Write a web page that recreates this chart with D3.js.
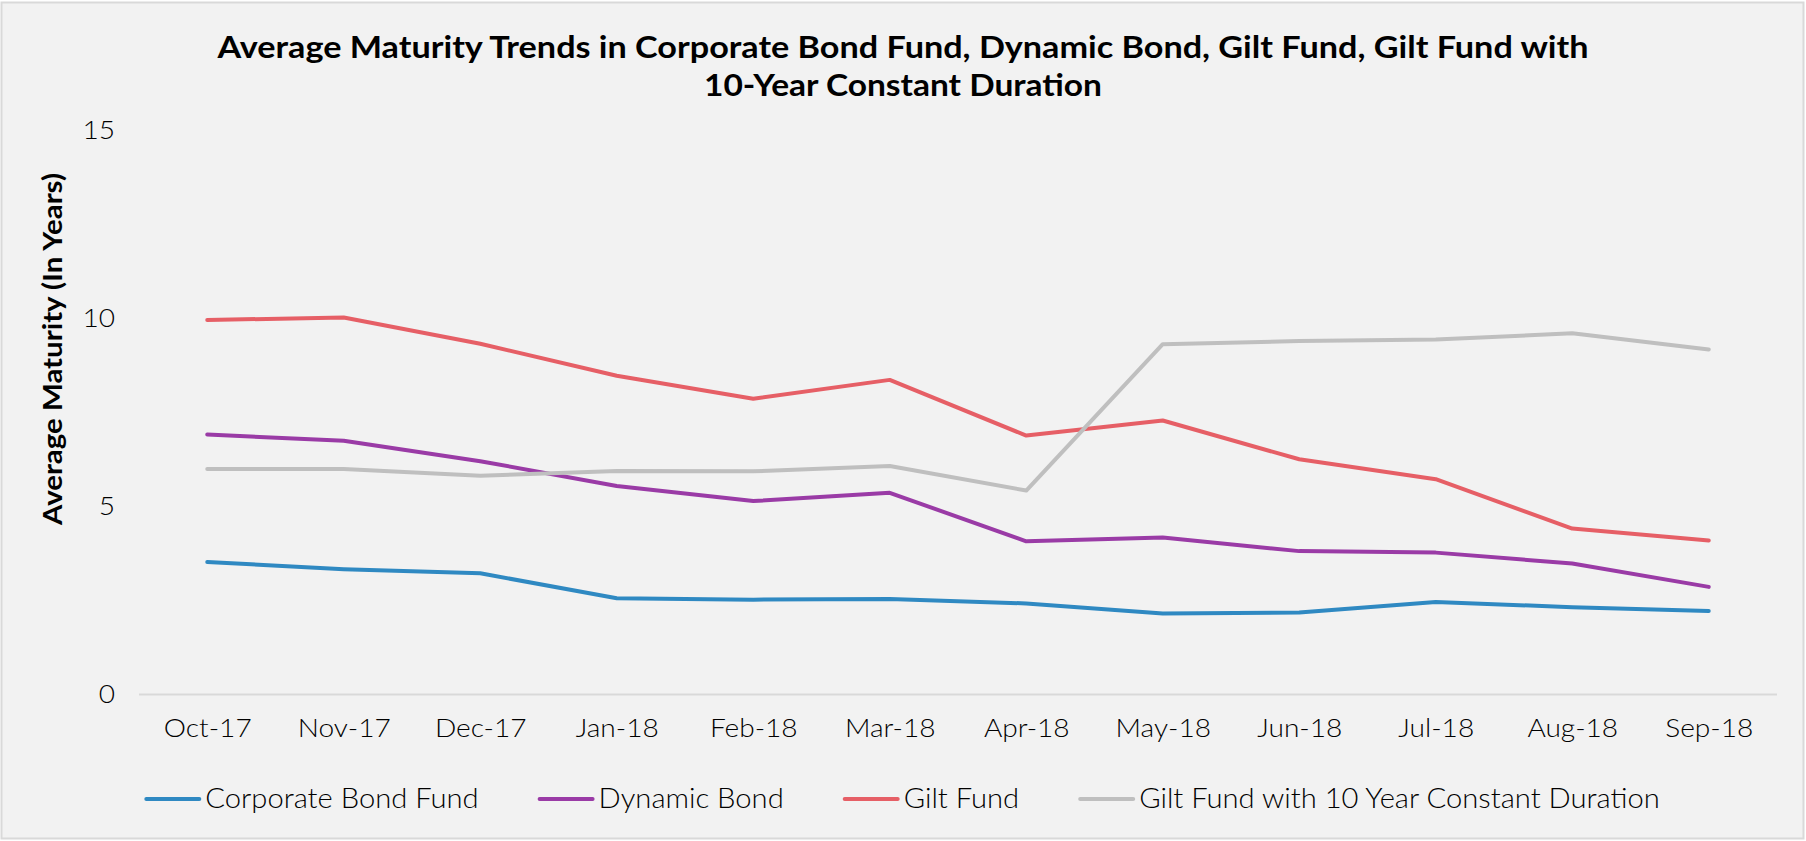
<!DOCTYPE html>
<html>
<head>
<meta charset="utf-8">
<script src="https://cdn.jsdelivr.net/npm/d3@7"></script>
<style>
  html, body { margin: 0; padding: 0; background: #ffffff; }
  svg { display: block; }
  text { font-family: Lato, 'Noto Sans', sans-serif; fill: #000000; }
</style>
</head>
<body>
<div id="chart"></div>
<script>

// Data
var months = [ 'Oct-17', 'Nov-17', 'Dec-17', 'Jan-18', 'Feb-18', 'Mar-18',
               'Apr-18', 'May-18', 'Jun-18', 'Jul-18', 'Aug-18', 'Sep-18' ];

var corporateBond = [ 3.52, 3.33, 3.22, 2.56, 2.52, 2.54, 2.42, 2.15, 2.18, 2.46, 2.32, 2.22 ];
var dynamicBond   = [ 6.91, 6.74, 6.20, 5.54, 5.14, 5.36, 4.07, 4.17, 3.81, 3.77, 3.48, 2.86 ];
var giltFund      = [ 9.95, 10.02, 9.32, 8.47, 7.86, 8.36, 6.88, 7.28, 6.25, 5.72, 4.41, 4.09 ];
var giltFund10Y   = [ 5.99, 5.99, 5.81, 5.94, 5.93, 6.07, 5.42, 9.31, 9.39, 9.43, 9.60, 9.17 ];

var seriesNames = [ 'Corporate Bond Fund', 'Dynamic Bond', 'Gilt Fund',
                    'Gilt Fund with 10 Year Constant Duration' ];
var seriesColors = [ '#2f89c2', '#9a3ba6', '#e65f66', '#bfbfbf' ];

var yTicks = [ 0, 5, 10, 15 ];

var titleLines = [ 'Average Maturity Trends in Corporate Bond Fund, Dynamic Bond, Gilt Fund, Gilt Fund with',
                   '10-Year Constant Duration' ];
var yLabel = 'Average Maturity (In Years)';

var series = [ corporateBond, dynamicBond, giltFund, giltFund10Y ];

// Size
var W = 1806, H = 841;
var plot = { left: 139, right: 1777, top: 130, bottom: 694.5 };

// The reference font is wider than Lato, so text gets stretched a bit
var stretch = 1.08;

var svg = d3.select( '#chart' )
            .append( 'svg' )
            .attr( 'width', W )
            .attr( 'height', H );

// Chart area background and border
svg.append( 'rect' )
   .attr( 'x', 1.5 )
   .attr( 'y', 2.5 )
   .attr( 'width', W - 4 )
   .attr( 'height', H - 5 )
   .attr( 'fill', '#f2f2f2' )
   .attr( 'stroke', '#d9d9d9' )
   .attr( 'stroke-width', 2 );

var x = d3.scalePoint()
          .domain( months )
          .range( [plot.left, plot.right] )
          .padding( 0.5 );

var y = d3.scaleLinear()
          .domain( [0, 15] )
          .range( [plot.bottom, plot.top] );

function widen ( selection ) {
    selection.each( function () {
        var len = this.getComputedTextLength() * stretch;
        d3.select( this )
          .attr( 'data-len', len )
          .attr( 'textLength', len )
          .attr( 'lengthAdjust', 'spacingAndGlyphs' );
    } );
}

// Title
svg.selectAll( '.title' )
   .data( titleLines ).enter()
   .append( 'text' )
   .attr( 'class', 'title' )
   .attr( 'x', W / 2 )
   .attr( 'y', function ( d, i ) { return 58 + i * 38; } )
   .attr( 'text-anchor', 'middle' )
   .style( 'font-size', '30px' )
   .style( 'font-weight', 'bold' )
   .attr( 'textLength', function ( d, i ) { return i == 0 ? 1371 : 398; } )
   .attr( 'lengthAdjust', 'spacingAndGlyphs' )
   .text( function ( d ) { return d; } );

// Y axis (labels only, baseline drawn separately)
var yAxis = svg.append( 'g' )
               .attr( 'class', 'y axis' )
               .attr( 'transform', 'translate(115,0)' )
               .call( d3.axisLeft( y ).tickValues( yTicks ).tickSize( 0 ).tickPadding( 0 ) );

yAxis.select( '.domain' ).remove();
yAxis.selectAll( 'text' )
     .style( 'font-family', 'Lato, sans-serif' )
     .style( 'font-size', '26px' )
     .style( 'font-weight', 300 )
     .attr( 'fill', '#000' )
     .call( widen );

// Zero line
svg.append( 'line' )
   .attr( 'x1', plot.left )
   .attr( 'x2', plot.right )
   .attr( 'y1', y( 0 ) )
   .attr( 'y2', y( 0 ) )
   .attr( 'stroke', '#d9d9d9' )
   .attr( 'stroke-width', 2 );

// X axis
var xAxis = svg.append( 'g' )
               .attr( 'class', 'x axis' )
               .attr( 'transform', 'translate(0,' + y( 0 ) + ')' )
               .call( d3.axisBottom( x ).tickSize( 0 ).tickPadding( 24 ) );

xAxis.select( '.domain' ).remove();
xAxis.selectAll( 'text' )
     .style( 'font-family', 'Lato, sans-serif' )
     .style( 'font-size', '26px' )
     .style( 'font-weight', 300 )
     .attr( 'fill', '#000' )
     .call( widen );

// Y label
svg.append( 'text' )
   .attr( 'class', 'y label' )
   .attr( 'text-anchor', 'middle' )
   .attr( 'transform', 'translate(62,349) rotate(-90)' )
   .style( 'font-size', '26px' )
   .style( 'font-weight', 'bold' )
   .attr( 'textLength', 352 )
   .attr( 'lengthAdjust', 'spacingAndGlyphs' )
   .text( yLabel );

// Lines
var line = d3.line()
             .x( function ( d, i ) { return x( months[i] ); } )
             .y( function ( d ) { return y( d ); } );

svg.selectAll( '.series' )
   .data( series ).enter()
   .append( 'path' )
   .attr( 'class', 'series' )
   .attr( 'd', line )
   .attr( 'fill', 'none' )
   .attr( 'stroke', function ( d, i ) { return seriesColors[i]; } )
   .attr( 'stroke-width', 4 )
   .attr( 'stroke-linejoin', 'round' )
   .attr( 'stroke-linecap', 'round' );

// Legend, laid out in a row and centred
var legendY = 799;
var swatch = 53, swatchGap = 6, itemGap = 61;

var legend = svg.append( 'g' ).attr( 'class', 'legend' );

var items = legend.selectAll( '.item' )
                  .data( seriesNames ).enter()
                  .append( 'g' )
                  .attr( 'class', 'item' );

items.append( 'line' )
     .attr( 'x1', 0 )
     .attr( 'x2', swatch )
     .attr( 'y1', 0 )
     .attr( 'y2', 0 )
     .attr( 'stroke', function ( d, i ) { return seriesColors[i]; } )
     .attr( 'stroke-width', 4 )
     .attr( 'stroke-linecap', 'round' );

items.append( 'text' )
     .attr( 'x', swatch + swatchGap )
     .attr( 'y', 0 )
     .attr( 'dy', '0.35em' )
     .style( 'font-size', '27px' )
     .style( 'font-weight', 300 )
     .text( function ( d ) { return d; } )
     .call( widen );

var offsets = [], total = 0;
items.each( function ( d, i ) {
    var w = swatch + swatchGap + +this.querySelector( 'text' ).getAttribute( 'data-len' );
    offsets.push( total );
    total += w + ( i < seriesNames.length - 1 ? itemGap : 0 );
} );

var legendX = W / 2 - total / 2;
items.attr( 'transform', function ( d, i ) {
    return 'translate(' + ( legendX + offsets[i] ) + ',' + legendY + ')';
} );

</script>
</body>
</html>
